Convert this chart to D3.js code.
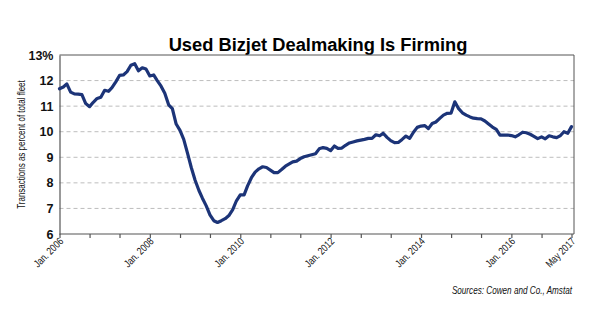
<!DOCTYPE html>
<html>
<head>
<meta charset="utf-8">
<script src="https://cdn.jsdelivr.net/npm/d3@7"></script>
<style>
  html, body { margin: 0; padding: 0; background: #fff; }
  svg { display: block; }
</style>
</head>
<body>
<svg id="chart" width="595" height="335"></svg>
<script>
// Monthly used-bizjet transactions as a share of the fleet, Jan. 2006 onward
const startMonth = "2006-01";
const rates = [
  11.68, 11.75, 11.87, 11.55, 11.48, 11.47, 11.45, 11.1, 10.98, 11.15,
  11.3, 11.35, 11.62, 11.58, 11.72, 11.95, 12.2, 12.22, 12.35, 12.6,
  12.66, 12.38, 12.5, 12.45, 12.18, 12.22, 12.0, 11.78, 11.5, 11.05,
  10.9, 10.3, 10.05, 9.7, 9.15, 8.6, 8.1, 7.7, 7.4, 7.1,
  6.75, 6.52, 6.45, 6.52, 6.6, 6.72, 6.95, 7.3, 7.53, 7.53,
  7.88, 8.2, 8.42, 8.55, 8.63, 8.6, 8.5, 8.4, 8.4, 8.52,
  8.65, 8.74, 8.82, 8.85, 8.95, 9.02, 9.06, 9.1, 9.14, 9.33,
  9.38, 9.35, 9.26, 9.44, 9.35, 9.36, 9.47, 9.56, 9.6, 9.64,
  9.67, 9.7, 9.74, 9.74, 9.88, 9.84, 9.94, 9.78, 9.65, 9.57,
  9.58, 9.7, 9.83, 9.74, 9.98, 10.17, 10.22, 10.24, 10.12, 10.32,
  10.38, 10.52, 10.65, 10.72, 10.73, 11.17, 10.9, 10.74, 10.65, 10.58,
  10.53, 10.51, 10.5, 10.42, 10.3, 10.18, 10.09, 9.87, 9.87, 9.87,
  9.85, 9.8, 9.88, 9.98, 9.96, 9.9, 9.82, 9.73, 9.8, 9.72,
  9.84, 9.8, 9.77, 9.85, 10.0, 9.94, 10.2
];
const yTicks = [6, 7, 8, 9, 10, 11, 12, 13];
const xLabelled = ["2006-01", "2008-01", "2010-01", "2012-01", "2014-01", "2016-01", "2017-05"];
const xLabelText = ["Jan. 2006", "Jan. 2008", "Jan. 2010", "Jan. 2012", "Jan. 2014", "Jan. 2016", "May 2017"];
const title = "Used Bizjet Dealmaking Is Firming";
const yTitle = "Transactions as percent of total fleet";
const source = "Sources: Cowen and Co., Amstat";

const parseMonth = d3.timeParse("%Y-%m");
const start = parseMonth(startMonth);
const series = rates.map((v, i) => ({ date: d3.timeMonth.offset(start, i), value: v }));
const end = series[series.length - 1].date;

const svg = d3.select("#chart");
const plot = { left: 59.5, right: 574, top: 55, bottom: 234 };

const x = d3.scaleTime().domain([start, end]).range([plot.left, 571.5]);
const y = d3.scaleLinear().domain([6, 13]).range([plot.bottom, plot.top]);

const sans = "'Liberation Sans', Arial, sans-serif";
const narrow = 0.8; // horizontal squeeze giving a condensed look

// Title
svg.append("text")
  .attr("x", 318).attr("y", 51)
  .attr("text-anchor", "middle")
  .attr("font-family", sans)
  .attr("font-weight", "bold")
  .attr("font-size", 18.3)
  .attr("fill", "#000")
  .text(title);

// Dashed gridlines
svg.append("g")
  .selectAll("line")
  .data(yTicks.filter(t => t > 6 && t < 13))
  .join("line")
  .attr("x1", plot.left).attr("x2", plot.right)
  .attr("y1", d => y(d)).attr("y2", d => y(d))
  .attr("stroke", "#bdbdbd")
  .attr("stroke-width", 1)
  .attr("stroke-dasharray", "4,3");

// Frame: top and right edges
svg.append("line")
  .attr("x1", plot.left).attr("x2", plot.right)
  .attr("y1", y(13)).attr("y2", y(13))
  .attr("stroke", "#555").attr("stroke-width", 1);
svg.append("line")
  .attr("x1", plot.right).attr("x2", plot.right)
  .attr("y1", plot.top).attr("y2", plot.bottom)
  .attr("stroke", "#555").attr("stroke-width", 1);

// Y axis
const yAxis = d3.axisLeft(y)
  .tickValues(yTicks)
  .tickSize(0)
  .tickPadding(6)
  .tickFormat(d => d === 13 ? "13%" : d);
const gy = svg.append("g")
  .attr("transform", `translate(${plot.left},0)`)
  .call(yAxis);
gy.select(".domain").attr("stroke", "#555").attr("stroke-width", 1.2);
gy.selectAll("text")
  .attr("font-family", sans)
  .attr("font-weight", "bold")
  .attr("font-size", 12.5)
  .attr("fill", "#111");

// X axis: ticks every eight months
const xTickDates = d3.range(0, rates.length, 8).map(i => d3.timeMonth.offset(start, i));
const labelMap = new Map(xLabelled.map((k, i) => [+parseMonth(k), xLabelText[i]]));
const xAxis = d3.axisBottom(x)
  .tickValues(xTickDates)
  .tickSize(4)
  .tickSizeOuter(0)
  .tickFormat(d => labelMap.get(+d) || "");
const gx = svg.append("g")
  .attr("transform", `translate(0,${plot.bottom})`)
  .call(xAxis);
gx.select(".domain").attr("stroke", "#555").attr("stroke-width", 1.2)
  .attr("d", `M${plot.left},0H${plot.right}`);
gx.selectAll(".tick line").attr("stroke", "#555").attr("stroke-width", 1.2);
gx.selectAll("text")
  .attr("font-family", sans)
  .attr("font-size", 10.5)
  .attr("fill", "#111")
  .attr("text-anchor", "end")
  .attr("dy", null)
  .attr("y", 0)
  .attr("transform", `translate(4,8) rotate(-45) scale(${narrow},1)`);

// Y axis title
svg.append("text")
  .attr("transform", `translate(25,${(plot.top + plot.bottom) / 2}) rotate(-90) scale(${narrow},1)`)
  .attr("text-anchor", "middle")
  .attr("font-family", sans)
  .attr("font-size", 10)
  .attr("fill", "#111")
  .text(yTitle);

// Series line
const line = d3.line()
  .x(d => x(d.date))
  .y(d => y(d.value));
svg.append("path")
  .datum(series)
  .attr("d", line)
  .attr("fill", "none")
  .attr("stroke", "#1c3478")
  .attr("stroke-width", 3.2)
  .attr("stroke-linejoin", "round")
  .attr("stroke-linecap", "round");

// Source note
svg.append("text")
  .attr("transform", `translate(572,294) scale(${narrow},1)`)
  .attr("text-anchor", "end")
  .attr("font-family", sans)
  .attr("font-style", "italic")
  .attr("font-size", 10.2)
  .attr("fill", "#111")
  .text(source);
</script>
</body>
</html>
